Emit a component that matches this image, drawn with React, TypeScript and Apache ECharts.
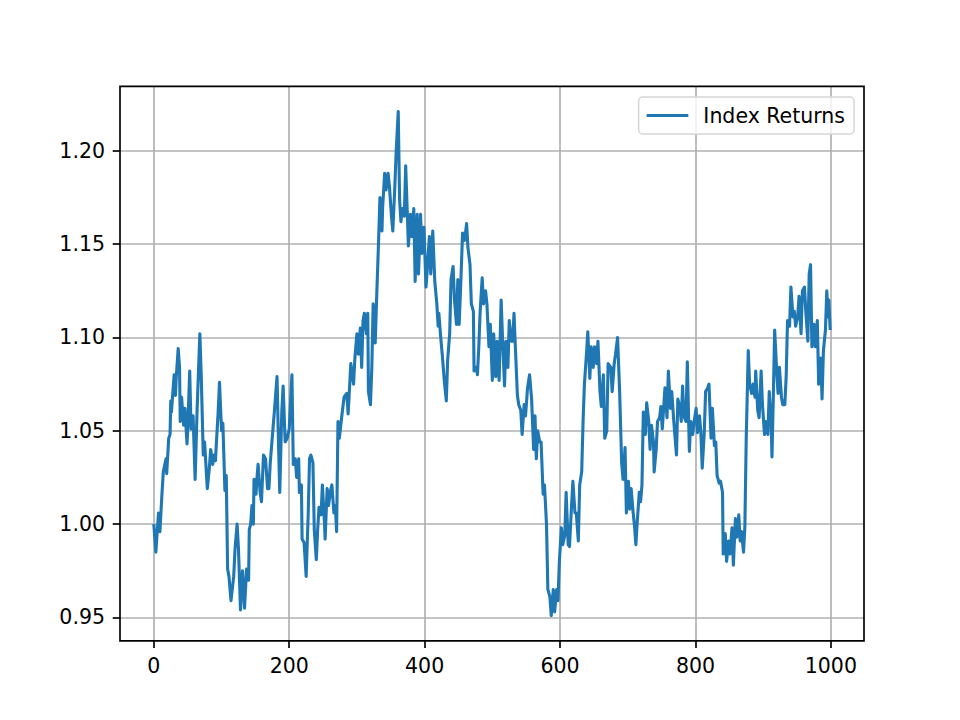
import React, { useEffect, useRef } from "react";
import * as echarts from "echarts";

// index (trading day) and index level
const steps: number[] = [
  0, 3, 5, 7, 9, 12, 14, 18, 19, 22, 24, 25, 26, 30, 32, 33, 36, 38, 39, 41, 44, 46, 49, 50, 53, 55, 58, 61, 64, 68,
  70, 73, 75, 79, 82, 84, 87, 89, 91, 95, 97, 100, 102, 105, 107, 109, 111, 114, 118, 120, 123, 125, 128, 131, 134,
  137, 140, 141, 143, 145, 147, 148, 151, 152, 154, 157, 159, 162, 165, 168, 170, 172, 174, 178, 182, 184, 186, 189,
  191, 194, 197, 200, 204, 206, 209, 211, 214, 215, 218, 219, 222, 225, 228, 230, 232, 235, 237, 240, 242, 244, 247,
  249, 252, 253, 256, 258, 261, 263, 266, 268, 270, 272, 274, 278, 281,
  285, 287, 291, 295, 297, 300, 302, 305, 307, 309, 311, 314, 316, 317, 320, 322, 324, 327, 329, 332, 334, 337, 338,
  341, 343, 346, 348, 351, 353, 356, 358, 361, 363, 365, 367, 370, 372, 374, 376, 379, 381, 384, 386, 389, 391, 394,
  396, 399, 402, 404, 407, 409, 412, 415, 418, 420, 421, 424, 426, 429, 432, 434, 437, 439, 442, 444, 447, 449, 451,
  454, 456, 459, 462, 464, 467, 469, 472, 473, 476, 478, 480, 482, 485, 487, 490, 492, 495, 497, 500, 502, 505, 507,
  510, 513, 515, 518, 520, 523, 525, 528, 530, 532, 534, 537, 539, 542, 544, 547, 549, 552, 555, 558, 561, 563, 565,
  567, 570, 572, 575, 577, 580, 582, 585, 587, 590, 592, 595, 597, 599, 602, 604, 607, 609, 612, 614, 617, 619, 622,
  624, 627, 629, 632, 634, 636, 639, 641, 644, 646, 649, 651, 654, 656, 659, 661, 664, 666, 669, 671, 675, 677, 680,
  682, 685, 688, 691, 693, 696, 698, 701, 703, 705, 708, 710, 712, 714, 717, 719, 721, 723, 726, 728, 731, 733, 735,
  738, 739, 742, 744, 747, 749, 751, 753, 755, 758, 760, 763, 765, 768, 770, 772, 774, 777, 779, 781, 783, 786, 788,
  791, 793, 796, 798, 801, 803, 806, 808, 810, 813, 815, 818, 820, 823, 825, 828, 830, 832, 835, 837, 840, 841, 844,
  846, 849, 851, 854, 856, 859, 861, 864, 866, 868, 871, 873, 875, 878, 880, 883, 885, 888, 889, 892, 894, 897, 899,
  902, 904, 907, 909, 912, 913, 915, 917, 920, 922, 924, 927, 929, 932, 934, 936, 939, 941, 944, 946, 948, 951, 953,
  956, 958, 961, 963, 966, 968, 970, 972, 975, 977, 980, 982, 985, 987, 989, 992, 994, 996, 997, 999,
];

const levels: number[] = [
  1.0, 0.985, 0.996, 1.006, 0.996, 1.016, 1.028, 1.035, 1.027, 1.046, 1.048, 1.066, 1.06, 1.08, 1.069, 1.078, 1.094,
  1.084, 1.055, 1.068, 1.053, 1.062, 1.043, 1.05, 1.082, 1.051, 1.058, 1.024, 1.062, 1.102,
  1.08, 1.037, 1.044, 1.019, 1.03, 1.04, 1.032, 1.037, 1.034, 1.06, 1.076, 1.05, 1.054, 1.018, 1.026, 0.976, 0.972,
  0.959, 0.972, 0.987, 1.0, 0.987, 0.954, 0.975, 0.955,
  0.976, 0.97, 0.997, 1.0, 1.01, 1.0, 1.024, 1.016, 1.023, 1.032, 1.017, 1.012, 1.037, 1.035, 1.019, 1.019, 1.033,
  1.042, 1.06, 1.079, 1.046, 1.017, 1.06, 1.074, 1.044, 1.046, 1.051, 1.08, 1.032, 1.035, 1.025, 1.035, 1.017, 1.021,
  0.992, 0.99, 0.972, 1.005, 1.035, 1.037, 1.033, 0.997, 0.981, 0.997, 1.009, 1.005, 1.021, 1.001, 0.992, 1.019,
  1.01, 1.018, 1.021, 1.006, 1.01, 0.996, 1.055, 1.046, 1.059, 1.068,
  1.07, 1.059, 1.086, 1.075, 1.089, 1.102, 1.091, 1.105, 1.084, 1.109, 1.113, 1.102, 1.113, 1.071, 1.064, 1.084,
  1.118, 1.097, 1.12, 1.152, 1.175, 1.157, 1.17, 1.188, 1.179, 1.188, 1.181, 1.165, 1.157, 1.181, 1.2, 1.221, 1.174,
  1.162, 1.169, 1.165, 1.192, 1.171, 1.149, 1.166, 1.154, 1.169, 1.13, 1.166, 1.134, 1.166, 1.145, 1.159, 1.127,
  1.137, 1.154, 1.134, 1.157, 1.13, 1.118, 1.106, 1.113, 1.099, 1.091, 1.077, 1.066, 1.088, 1.102, 1.131, 1.138,
  1.121, 1.107, 1.131, 1.107, 1.135, 1.156, 1.152, 1.161, 1.148, 1.139, 1.118, 1.114, 1.082, 1.084, 1.08, 1.095,
  1.114, 1.132, 1.118, 1.125, 1.118, 1.095, 1.107, 1.077, 1.102, 1.079, 1.098, 1.077, 1.12, 1.1, 1.074, 1.098, 1.084,
  1.109, 1.098, 1.098, 1.113, 1.095, 1.069, 1.064, 1.061, 1.048, 1.064, 1.058, 1.073, 1.08, 1.067, 1.04, 1.058,
  1.035, 1.05, 1.044, 1.044, 1.016, 1.021, 1.0, 0.965, 0.961, 0.951, 0.965, 0.953, 0.965, 0.959, 0.98, 0.998, 0.989,
  0.994, 1.017, 0.989, 0.988, 1.01, 1.023, 1.006, 1.006, 0.991, 1.021, 1.028, 1.055, 1.075, 1.091, 1.103, 1.078,
  1.095, 1.084, 1.095, 1.086, 1.098, 1.071, 1.063, 1.08, 1.046, 1.05, 1.086, 1.084, 1.071, 1.086, 1.091, 1.1, 1.071,
  1.033, 1.024, 1.041, 1.006, 1.023, 1.008, 1.019, 1.006, 0.999, 0.989, 1.001, 1.017, 1.012, 1.021, 1.06, 1.048,
  1.065, 1.055, 1.04, 1.053, 1.044, 1.028, 1.04, 1.055, 1.057, 1.063, 1.051, 1.062, 1.073, 1.057, 1.082, 1.062,
  1.071, 1.055, 1.046, 1.037, 1.067, 1.063, 1.055, 1.074, 1.058, 1.055, 1.087, 1.039, 1.055, 1.048, 1.055, 1.062,
  1.049, 1.058, 1.049, 1.03, 1.049, 1.071, 1.073, 1.075, 1.046, 1.062, 1.042, 1.044, 1.026, 1.022, 1.023, 1.017,
  0.984, 0.995, 0.98, 0.991, 0.984, 0.998, 0.978, 1.003, 0.993, 1.005, 0.991, 0.996, 0.985, 0.999, 1.046, 1.093,
  1.075, 1.07, 1.075, 1.068, 1.082, 1.061, 1.057, 1.082, 1.064, 1.048, 1.055, 1.048, 1.071, 1.053, 1.036, 1.068,
  1.104, 1.082, 1.07, 1.084, 1.068, 1.064, 1.064, 1.079, 1.109, 1.106, 1.127, 1.111, 1.114, 1.106, 1.111, 1.122,
  1.102, 1.125, 1.127, 1.114, 1.098, 1.134, 1.139, 1.095, 1.107, 1.095, 1.109, 1.075, 1.089, 1.067, 1.093, 1.104,
  1.125, 1.111, 1.12, 1.104,
];

const seriesName = "Index Returns";
const xTicks = { min: 0, max: 1000, step: 200 };
const yTicks = { min: 0.95, max: 1.2, step: 0.05 };

const W = 960;
const H = 720;
const PLOT = { left: 120, right: 864, top: 86.4, bottom: 640.8 };
const FONT = "DejaVu Sans";
const FS = 20.5;

export default function App() {
  const ref = useRef<HTMLDivElement>(null);

  useEffect(() => {
    if (!ref.current) return;
    const chart = echarts.init(ref.current, null, { renderer: "svg", width: W, height: H });

    const n = steps.length;
    const xLo = steps[0];
    const xHi = steps[n - 1];
    const xPad = (xHi - xLo) * 0.05;
    const xMin = xLo - xPad;
    const xMax = xHi + xPad;
    const yLo = Math.min(...levels);
    const yHi = Math.max(...levels);
    const yPad = (yHi - yLo) * 0.05;
    const yMin = yLo - yPad;
    const yMax = yHi + yPad;

    const pw = PLOT.right - PLOT.left;
    const ph = PLOT.bottom - PLOT.top;
    const xPix = (v: number) => PLOT.left + ((v - xMin) / (xMax - xMin)) * pw;
    const yPix = (v: number) => PLOT.top + ((yMax - v) / (yMax - yMin)) * ph;

    const gridMain = { left: PLOT.left, top: PLOT.top, width: pw, height: ph };
    const gridX = {
      left: xPix(xTicks.min),
      top: PLOT.top,
      width: xPix(xTicks.max) - xPix(xTicks.min),
      height: ph,
    };
    const gridY = {
      left: PLOT.left,
      top: yPix(yTicks.max),
      width: pw,
      height: yPix(yTicks.min) - yPix(yTicks.max),
    };

    const tickStyle = { color: "#000", width: 1.67 };
    const splitStyle = { color: "#b0b0b0", width: 1.67 };
    const labelStyle = { color: "#000", fontFamily: FONT, fontSize: FS };

    chart.setOption({
      animation: false,
      backgroundColor: "#fff",
      textStyle: { fontFamily: FONT },
      grid: [
        { ...gridMain, show: true, borderColor: "#000", borderWidth: 1.67, backgroundColor: "transparent", z: 5 },
        { ...gridX, show: false },
        { ...gridY, show: false },
      ],
      xAxis: [
        { type: "value", gridIndex: 0, min: xMin, max: xMax, show: false },
        {
          type: "value",
          gridIndex: 1,
          min: xTicks.min,
          max: xTicks.max,
          interval: xTicks.step,
          axisLine: { show: false },
          axisTick: { show: true, length: 7.3, inside: false, lineStyle: tickStyle },
          axisLabel: {
            ...labelStyle,
            margin: 15,
            showMinLabel: true,
            showMaxLabel: true,
            formatter: (v: number) => String(v),
          },
          splitLine: { show: true, lineStyle: splitStyle },
        },
        { type: "value", gridIndex: 2, min: 0, max: 1, show: false },
      ],
      yAxis: [
        { type: "value", gridIndex: 0, min: yMin, max: yMax, show: false },
        { type: "value", gridIndex: 1, min: 0, max: 1, show: false },
        {
          type: "value",
          gridIndex: 2,
          min: yTicks.min,
          max: yTicks.max,
          interval: yTicks.step,
          axisLine: { show: false },
          axisTick: { show: true, length: 7.3, inside: false, lineStyle: tickStyle },
          axisLabel: {
            ...labelStyle,
            margin: 15,
            showMinLabel: true,
            showMaxLabel: true,
            formatter: (v: number) => v.toFixed(2),
          },
          splitLine: { show: true, lineStyle: splitStyle },
        },
      ],
      legend: {
        show: true,
        data: [seriesName],
        right: W - 854,
        top: 97,
        orient: "vertical",
        icon: "rect",
        itemWidth: 41.7,
        itemHeight: 3.1,
        padding: [8, 9, 8, 8],
        backgroundColor: "rgba(255,255,255,0.8)",
        borderColor: "#d6d6d6",
        borderWidth: 1.5,
        borderRadius: 4,
        textStyle: { color: "#000", fontFamily: FONT, fontSize: FS, lineHeight: 20, padding: [0, 0, 0, 10] },
        z: 10,
      },
      series: [
        {
          name: seriesName,
          type: "line",
          xAxisIndex: 0,
          yAxisIndex: 0,
          data: steps.map((s, i) => [s, levels[i]]),
          showSymbol: false,
          symbol: "none",
          lineStyle: { color: "#1f77b4", width: 3.1, join: "round" },
          itemStyle: { color: "#1f77b4" },
          z: 3,
        },
      ],
    });

    return () => chart.dispose();
  }, []);

  return <div ref={ref} style={{ position: "fixed", left: 0, top: 0, width: W, height: H }} />;
}
